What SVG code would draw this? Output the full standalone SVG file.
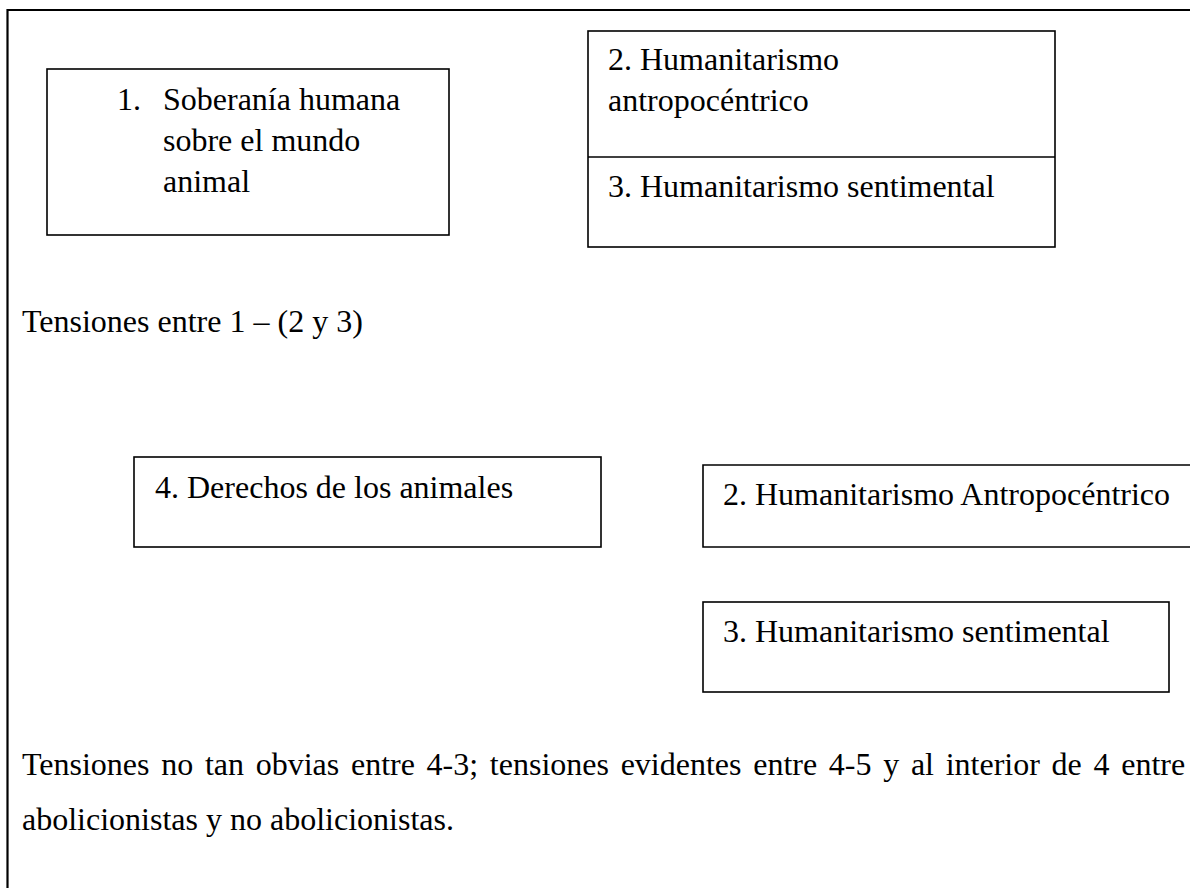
<svg xmlns="http://www.w3.org/2000/svg" width="1190" height="888" viewBox="0 0 1190 888">
<style>
  .frame { fill: none; stroke: #000; stroke-width: 2.2; }
  .box { fill: #fff; stroke: #000; stroke-width: 1.6; }
  .t { font-family: "Liberation Serif", "Times New Roman", serif; font-size: 32px; fill: #000; }
</style>
<rect width="1190" height="888" fill="#fff"/>
<g id="frame">
  <path class="frame" d="M7.5,888 V10 H1190"/>
</g>
<g id="node1">
  <rect class="box" x="47" y="69" width="402" height="166"/>
  <text class="t" x="117" y="110">1.</text>
  <text class="t" x="163" y="110">Soberanía humana</text>
  <text class="t" x="163" y="151">sobre el mundo</text>
  <text class="t" x="163" y="192">animal</text>
</g>
<g id="node2-3">
  <rect class="box" x="588" y="31" width="467" height="216"/>
  <line class="box" x1="588" y1="157" x2="1055" y2="157"/>
  <text class="t" x="608" y="70">2. Humanitarismo</text>
  <text class="t" x="608" y="111">antropocéntrico</text>
  <text class="t" x="608" y="197">3. Humanitarismo sentimental</text>
</g>
<g id="caption1">
  <text class="t" x="22" y="332">Tensiones entre 1 – (2 y 3)</text>
</g>
<g id="node4">
  <rect class="box" x="134" y="457" width="467" height="90"/>
  <text class="t" x="155" y="498">4. Derechos de los animales</text>
</g>
<g id="node2b">
  <path class="box" d="M1192,465 H703 V547 H1192"/>
  <text class="t" x="723" y="505">2. Humanitarismo Antropocéntrico</text>
</g>
<g id="node3b">
  <rect class="box" x="703" y="602" width="466" height="90"/>
  <text class="t" x="723" y="642">3. Humanitarismo sentimental</text>
</g>
<g id="connectors"></g>
<g id="caption2">
  <text class="t" x="22" y="775" word-spacing="3.7">Tensiones no tan obvias entre 4-3; tensiones evidentes entre 4-5 y al interior de 4 entre</text>
  <text class="t" x="22" y="830">abolicionistas y no abolicionistas.</text>
</g>
</svg>
